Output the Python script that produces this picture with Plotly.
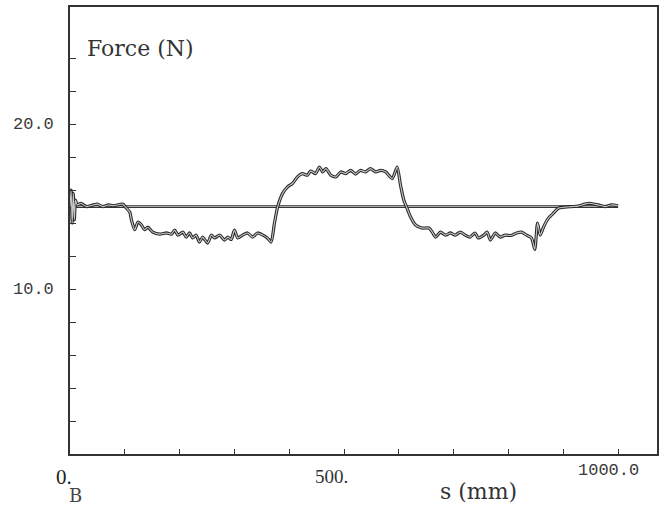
import plotly.graph_objects as go

# ---- data ----
s_mm = [0, 2, 4, 6, 8, 10, 13, 20, 30, 42, 50, 60, 70, 80, 96, 103, 109, 112, 118, 124,
        130, 136, 142, 151, 164, 176, 185, 191, 197, 206, 212, 218, 224, 230, 236, 242,
        251, 258, 264, 273, 282, 288, 294, 300, 306, 315, 324, 333, 342, 352, 360, 367,
        373, 379, 388, 397, 406, 415, 424, 433, 439, 448, 455, 461, 467, 476, 485, 494,
        503, 512, 521, 530, 539, 548, 558, 567, 576, 588, 597, 603, 609, 615, 621, 630,
        642, 655, 661, 667, 676, 685, 694, 703, 712, 721, 730, 739, 745, 755, 761, 767,
        776, 785, 794, 805, 815, 824, 833, 842, 848, 853, 858, 864, 873, 882, 891, 903,
        915, 927, 939, 948, 964, 976, 988, 1000]
force_N = [15.0, 16.0, 14.0, 15.8, 14.2, 15.4, 15.1, 15.2, 15.0, 15.1, 15.15, 15.0, 15.1, 15.05, 15.15, 14.9, 14.67, 14.2, 13.6, 14.06,
           13.9, 13.6, 13.75, 13.45, 13.33, 13.4, 13.33, 13.57, 13.27, 13.45, 13.15, 13.4, 13.1, 13.27, 12.85, 13.15,
           12.79, 13.27, 13.1, 13.27, 12.97, 13.15, 13.0, 13.57, 13.1, 13.27, 13.4, 13.15, 13.4, 13.27, 13.1, 12.85,
           14.0, 15.0, 15.8, 16.2, 16.4, 16.8, 17.0, 16.9, 17.15, 17.0, 17.4, 17.1, 17.3, 16.9, 16.8, 17.1,
           17.0, 17.2, 16.97, 17.2, 17.1, 17.3, 17.1, 17.2, 17.1, 16.7, 17.4, 16.3, 15.4, 14.9, 14.4, 13.9,
           13.7, 13.7, 13.45, 13.15, 13.45, 13.27, 13.4, 13.27, 13.45, 13.27, 13.15, 13.4, 13.1, 13.27, 13.45, 12.97,
           13.4, 13.15, 13.27, 13.25, 13.4, 13.45, 13.27, 13.1, 12.4, 14.0, 13.27, 13.76, 14.3, 14.6, 14.9, 14.97,
           15.0, 15.03, 15.15, 15.2, 15.1, 15.0, 15.1, 15.05]

ref_s = [0, 1000]
ref_force = [15.0, 15.0]

x_ticks = [100, 200, 300, 400, 500, 600, 700, 800, 900, 1000]
y_ticks = [2, 4, 6, 8, 10, 12, 14, 16, 18, 20, 22, 24]
y_labels = [(10, "10.0"), (20, "20.0")]

fig = go.Figure()

for xs, ys, w_out, w_in in [(ref_s, ref_force, 2.8, 0.9), (s_mm, force_N, 3.2, 1.1)]:
    fig.add_trace(go.Scatter(x=xs, y=ys, mode="lines",
                             line=dict(color="#2a2a2a", width=w_out, shape="spline", smoothing=0.6),
                             hoverinfo="skip", showlegend=False))
    fig.add_trace(go.Scatter(x=xs, y=ys, mode="lines",
                             line=dict(color="#c8c8c8", width=w_in, shape="spline", smoothing=0.6),
                             hoverinfo="skip", showlegend=False))

ann = []
for v, t in y_labels:
    ann.append(dict(x=0, y=v, xref="x", yref="y", text=t, showarrow=False,
                    xanchor="right", yanchor="middle", xshift=-14,
                    font=dict(family="Liberation Mono", size=17, color="#3a3a3a")))
ann.append(dict(x=0, y=0, xref="x", yref="y", text="0.", showarrow=False,
                xanchor="right", yanchor="top", xshift=4, yshift=-9,
                font=dict(family="Liberation Serif", size=21, color="#222")))
ann.append(dict(x=500, y=0, xref="x", yref="y", text="500.", showarrow=False,
                xanchor="right", yanchor="top", xshift=6, yshift=-10,
                font=dict(family="Liberation Serif", size=19, color="#333")))
ann.append(dict(x=1000, y=0, xref="x", yref="y", text="1000.0", showarrow=False,
                xanchor="center", yanchor="top", xshift=-10, yshift=-5,
                font=dict(family="Liberation Mono", size=17, color="#3a3a3a")))
ann.append(dict(x=745, y=0, xref="x", yref="y", text="s (mm)", showarrow=False,
                xanchor="center", yanchor="middle", yshift=-37,
                font=dict(family="DejaVu Serif", size=22, color="#333")))
ann.append(dict(x=0, y=0, xref="x", yref="y", text="B", showarrow=False,
                xanchor="left", yanchor="middle", xshift=-3, yshift=-41,
                font=dict(family="DejaVu Serif", size=18, color="#444")))
ann.append(dict(x=0, y=24.6, xref="x", yref="y", text="Force (N)", showarrow=False,
                xanchor="left", yanchor="middle", xshift=15,
                font=dict(family="DejaVu Serif", size=22, color="#333")))

fig.update_layout(
    width=664, height=506,
    margin=dict(l=70, r=5, t=7, b=52),
    paper_bgcolor="white", plot_bgcolor="white",
    annotations=ann,
    xaxis=dict(range=[0, 1071], showgrid=False, zeroline=False,
               showline=True, mirror=True, linecolor="#333", linewidth=1.6,
               tickmode="array", tickvals=x_ticks, ticks="inside", ticklen=5,
               tickcolor="#333", showticklabels=False),
    yaxis=dict(range=[0, 27.1], showgrid=False, zeroline=False,
               showline=True, mirror=True, linecolor="#333", linewidth=1.6,
               tickmode="array", tickvals=y_ticks, ticks="inside", ticklen=6,
               tickcolor="#333", showticklabels=False),
)

fig.write_html("out.html",
               config={"displayModeBar": False},
               post_script="document.body.style.margin='0';document.body.style.overflow='hidden';")
